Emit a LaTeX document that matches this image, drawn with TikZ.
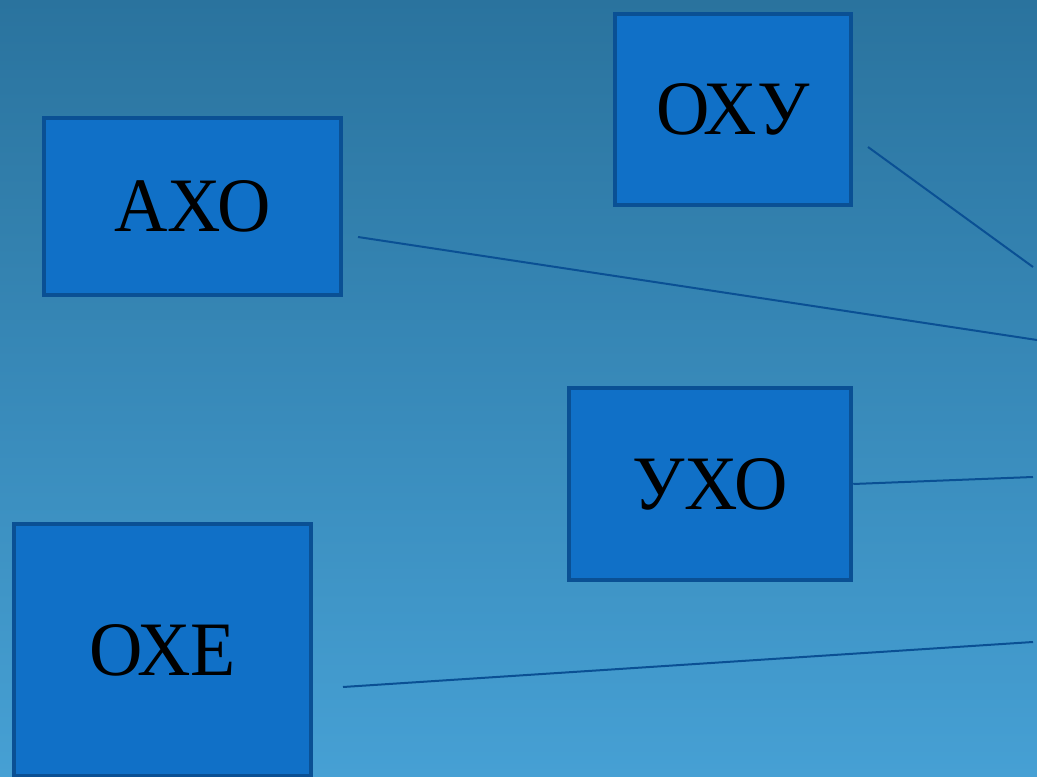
\documentclass[tikz,border=0pt]{standalone}
\usepackage{fontspec}
\usepackage{graphicx}
\setmainfont{Liberation Serif}
\definecolor{bgtop}{RGB}{42,115,158}
\definecolor{bgbot}{RGB}{70,160,212}
\definecolor{boxfill}{RGB}{16,112,199}
\definecolor{boxline}{RGB}{10,80,148}
\newcommand{\lbl}[1]{\raisebox{-3pt}{\scalebox{0.96}[1]{#1}}}
\tikzset{
  blk/.style={draw=boxline, fill=boxfill, line width=4.5pt, inner sep=0pt,
    font=\fontsize{77}{80}\selectfont, text=black},
  link/.style={draw=boxline, line width=2pt}
}
\begin{document}
\begin{tikzpicture}[x=1pt,y=1pt]
\useasboundingbox (0,0) rectangle (1037,777);
\shade[top color=bgtop, bottom color=bgbot] (0,0) rectangle (1037,777);
\node[blk, minimum width=236pt, minimum height=191pt] (oxy) at (733,667.5) {\lbl{ОХУ}};
\node[blk, minimum width=297pt, minimum height=177pt] (axo) at (192.5,570.5) {\lbl{АХО}};
\node[blk, minimum width=282pt, minimum height=192pt] (uxo) at (710,293) {\lbl{УХО}};
\node[blk, minimum width=297pt, minimum height=252pt] (oxe) at (162.5,127) {\lbl{ОХЕ}};
\coordinate (s1) at (868,630);
\coordinate (e1) at (1033,510);
\coordinate (s2) at (358,540);
\coordinate (e2) at (1039,436.7);
\coordinate (s3) at (uxo.east |- 0,293);
\coordinate (e3) at (1033,300);
\coordinate (s4) at (343,90);
\coordinate (e4) at (1033,135);
\draw[link] (s1) -- (e1);
\draw[link] (s2) -- (e2);
\draw[link] (s3) -- (e3);
\draw[link] (s4) -- (e4);
\end{tikzpicture}
\end{document}
